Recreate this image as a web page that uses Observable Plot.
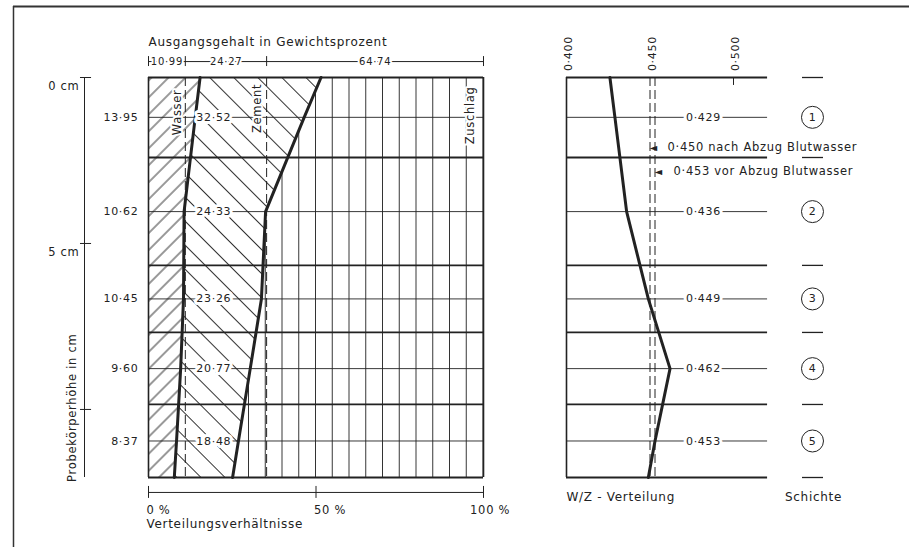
<!DOCTYPE html>
<html><head><meta charset="utf-8">
<script src="https://cdn.jsdelivr.net/npm/d3@7"></script>
<script src="https://cdn.jsdelivr.net/npm/@observablehq/plot@0.6"></script>
<style>
html,body{margin:0;padding:0;background:#fff;}
#wrap{position:relative;width:909px;height:547px;overflow:hidden;background:#fff;}
#wrap svg{position:absolute;left:0;top:0;}
</style></head><body><div id="wrap"></div>
<script>
// ---------- data ----------
const layerNames = ["1", "2", "3", "4", "5"];
const layerBounds = [0, 2.41, 5.66, 7.68, 9.85, 12.05];      // cm, layer borders
const layerMid = [1.2, 4.04, 6.67, 8.77, 10.95];             // cm, layer centres
const waterPct = [13.95, 10.62, 10.45, 9.60, 8.37];          // Wasser %
const cementPct = [32.52, 24.33, 23.26, 20.77, 18.48];       // Zement %
const wzRatio = [0.429, 0.436, 0.449, 0.462, 0.453];         // W/Z
const initialNames = ["Wasser", "Zement", "Zuschlag"];
const initialPct = [10.99, 24.27, 64.74];                    // Ausgangsgehalt
const waterEnds = [15.4, 7.7];        // water edge read at top / bottom of sample
const cementEdgeEnds = [51.5, 25.1];  // cement edge read at top / bottom
const wzEnds = [0.426, 0.449];        // W/Z line read at top / bottom
const wzRefValues = [0.450, 0.453];
const wzRefLabels = ["0·450 nach Abzug Blutwasser", "0·453 vor Abzug Blutwasser"];
const cmTicks = [0, 5, 10];
const cmLabels = ["0 cm", "5 cm", ""];
const pctTicks = [0, 50, 100];
const pctLabels = ["0 %", "50 %", "100 %"];
const wzTicks = [0.400, 0.450, 0.500];

// ---------- helpers ----------
const fmt = v => v.toFixed(2).replace(".", "·");
const fmt3 = v => v.toFixed(3).replace(".", "·");
const depthTop = layerBounds[0], depthBot = layerBounds[layerBounds.length - 1];
const profileDepth = [depthTop, ...layerMid, depthBot];
const waterEdge = [waterEnds[0], ...waterPct, waterEnds[1]];
const cementEdge = [cementEdgeEnds[0], ...waterPct.map((w, i) => w + cementPct[i]), cementEdgeEnds[1]];
const profile = profileDepth.map((d, i) => ({d, w: waterEdge[i], c: cementEdge[i]}));
const wzProfile = profileDepth.map((d, i) => ({d, v: [wzEnds[0], ...wzRatio, wzEnds[1]][i]}));
const rows = layerMid.map((m, i) => ({m, water: waterPct[i], cement: cementPct[i], wz: wzRatio[i], name: layerNames[i]}));
const initCum = [0, initialPct[0], initialPct[0] + initialPct[1], 100];
const initLabelsPos = [initialPct[0] / 2, initCum[1] + 12.2, initCum[2] + 32.4];

const INK = "#222";
const STYLE = "background:transparent;overflow:visible;font-family:'DejaVu Sans',sans-serif;color:#222;letter-spacing:0.7px";
const yScale = {domain: [depthTop, depthBot], range: [77, 477], axis: null};
const halo = {stroke: "white", strokeWidth: 5, fill: INK};

// ---------- left panel ----------
const left = Plot.plot({
  width: 909, height: 547, style: STYLE,
  x: {domain: [0, 100], range: [148, 483], axis: null},
  y: yScale,
  marks: [
    Plot.areaX(profile, {y: "d", x1: 0, x2: "w", fill: "url(#hatchW)", curve: "linear"}),
    Plot.areaX(profile, {y: "d", x1: "w", x2: "c", fill: "url(#hatchC)", curve: "linear"}),
    Plot.areaX(profile, {y: "d", x1: "c", x2: 100, fill: "url(#hatchA)", curve: "linear"}),
    Plot.ruleX([initCum[1], initCum[2]], {y1: depthTop, y2: depthBot, stroke: INK, strokeWidth: 1, strokeDasharray: "9,4"}),
    Plot.ruleY(layerMid, {x1: 0, x2: 100, stroke: INK, strokeWidth: 0.9}),
    Plot.ruleY(layerBounds, {x1: 0, x2: 100, stroke: INK, strokeWidth: 1.8}),
    Plot.ruleX([0, 100], {y1: depthTop, y2: depthBot, stroke: INK, strokeWidth: 1.6}),
    Plot.line(profile, {x: "w", y: "d", stroke: INK, strokeWidth: 3}),
    Plot.line(profile, {x: "c", y: "d", stroke: INK, strokeWidth: 3}),
    Plot.text(rows, {x: 19.5, y: "m", text: d => fmt(d.cement), fontSize: 11, ...halo, strokeWidth: 6}),
    Plot.text(rows, {x: -3, y: "m", text: d => fmt(d.water), fontSize: 11, textAnchor: "end", fill: INK}),
    Plot.text(initialNames, {x: [8.7, 32.5, 96.1], y: [1.05, 0.93, 1.14], text: d => d, rotate: -90, fontSize: 11.5, ...halo, strokeWidth: 4}),
    // header: Ausgangsgehalt
    Plot.text(["Ausgangsgehalt in Gewichtsprozent"], {x: 0, y: -1.05, text: d => d, textAnchor: "start", fontSize: 12, fill: INK}),
    Plot.ruleY([-0.48], {x1: 0, x2: 100, stroke: INK, strokeWidth: 1}),
    Plot.ruleX(initCum, {y1: -0.63, y2: -0.33, stroke: INK, strokeWidth: 1}),
    Plot.text(initialPct, {x: initLabelsPos, y: -0.48, text: d => fmt(d), fontSize: 10, ...halo, strokeWidth: 4}),
    // depth axis
    Plot.ruleX([-19.1], {y1: depthTop, y2: depthBot, stroke: INK, strokeWidth: 1}),
    Plot.ruleY(cmTicks, {x1: -20.3, x2: -17.0, stroke: INK, strokeWidth: 1}),
    Plot.text(cmTicks, {x: -20.6, y: d => d + 0.27, text: (d, i) => cmLabels[i], textAnchor: "end", fontSize: 11.5, fill: INK}),
    Plot.text(["Probekörperhöhe in cm"], {x: -22.7, y: 9.95, text: d => d, rotate: -90, fontSize: 11.5, fill: INK}),
    // percentage axis
    Plot.ruleY([12.5], {x1: 0, x2: 100, stroke: INK, strokeWidth: 1}),
    Plot.ruleX(pctTicks, {y1: 12.32, y2: 12.68, stroke: INK, strokeWidth: 1}),
    Plot.text(pctTicks, {x: d => d === 100 ? d - 4 : d - 0.6, y: 13.04, text: (d, i) => pctLabels[i], textAnchor: "start", fontSize: 11.5, fill: INK}),
    Plot.text(["Verteilungsverhältnisse"], {x: -0.6, y: 13.47, text: d => d, textAnchor: "start", fontSize: 12, fill: INK}),
    // outer frame
    Plot.ruleY([-2.14], {x1: -40.3, x2: 230, stroke: "#333", strokeWidth: 2}),
    Plot.ruleX([-40.3], {y1: -2.14, y2: 14.3, stroke: "#333", strokeWidth: 1.5})
  ]
});

// hatch patterns, aligned to the x scale
{
  const xs = left.scale("x");
  const x0 = xs.apply(0), step = xs.apply(5) - x0;
  const ns = "http://www.w3.org/2000/svg";
  const defs = document.createElementNS(ns, "defs");
  defs.innerHTML = `
  <pattern id="hatchW" patternUnits="userSpaceOnUse" width="12" height="12" patternTransform="rotate(45)">
    <line x1="6" y1="-1" x2="6" y2="13" stroke="#333" stroke-width="1"/>
  </pattern>
  <pattern id="hatchC" patternUnits="userSpaceOnUse" width="17" height="17" patternTransform="rotate(-45)">
    <line x1="8.5" y1="-1" x2="8.5" y2="18" stroke="#333" stroke-width="1"/>
  </pattern>
  <pattern id="hatchA" patternUnits="userSpaceOnUse" x="${x0 - step / 2}" y="0" width="${step}" height="10">
    <line x1="${step / 2}" y1="-1" x2="${step / 2}" y2="11" stroke="#333" stroke-width="1"/>
  </pattern>`;
  left.insertBefore(defs, left.firstChild);
}

// ---------- right panel ----------
const xR = 0.5204; // right end of horizontal lines
const right = Plot.plot({
  width: 909, height: 547, style: STYLE,
  x: {domain: [0.4, 0.5], range: [566, 733], axis: null},
  y: yScale,
  marks: [
    Plot.ruleX(wzRefValues, {y1: depthTop, y2: depthBot, stroke: INK, strokeWidth: 1, strokeDasharray: "9,4"}),
    Plot.ruleY(layerMid, {x1: 0.4, x2: xR, stroke: INK, strokeWidth: 0.9}),
    Plot.ruleY(layerBounds, {x1: 0.4, x2: xR, stroke: INK, strokeWidth: 1.8}),
    Plot.ruleX([0.4], {y1: depthTop, y2: depthBot, stroke: INK, strokeWidth: 1.6}),
    Plot.ruleX([0.5], {y1: depthTop, y2: 0.24, stroke: INK, strokeWidth: 1}),
    Plot.line(wzProfile, {x: "v", y: "d", stroke: INK, strokeWidth: 3}),
    Plot.text(rows, {x: 0.482, y: "m", text: d => fmt3(d.wz), fontSize: 11, ...halo, strokeWidth: 6}),
    Plot.text(wzTicks, {x: d => d + 0.0012, y: -0.72, text: d => fmt3(d), rotate: -90, fontSize: 11, fill: INK}),
    // reference W/Z arrows
    Plot.text(wzRefValues, {x: d => d - 0.0003, y: [2.11, 2.83], text: () => "◄", textAnchor: "start", fontSize: 10, fill: INK}),
    Plot.text(wzRefLabels, {x: [0.4605, 0.4641], y: [2.11, 2.83], text: d => d, textAnchor: "start", fontSize: 11.5, fill: INK}),
    // Schichte column
    Plot.ruleY(layerBounds, {x1: 0.5413, x2: 0.5539, stroke: INK, strokeWidth: 1.3}),
    Plot.dot(rows, {x: 0.5473, y: "m", r: 11, stroke: INK, strokeWidth: 1, fill: "white"}),
    Plot.text(rows, {x: 0.5473, y: "m", text: "name", fontSize: 11, fill: INK}),
    Plot.text(["W/Z - Verteilung"], {x: 0.4, y: 12.65, text: d => d, textAnchor: "start", fontSize: 12, fill: INK}),
    Plot.text(["Schichte"], {x: 0.5479, y: 12.65, text: d => d, fontSize: 12, fill: INK})
  ]
});

const wrap = document.getElementById("wrap");
wrap.appendChild(left);
wrap.appendChild(right);
</script>
</body></html>
